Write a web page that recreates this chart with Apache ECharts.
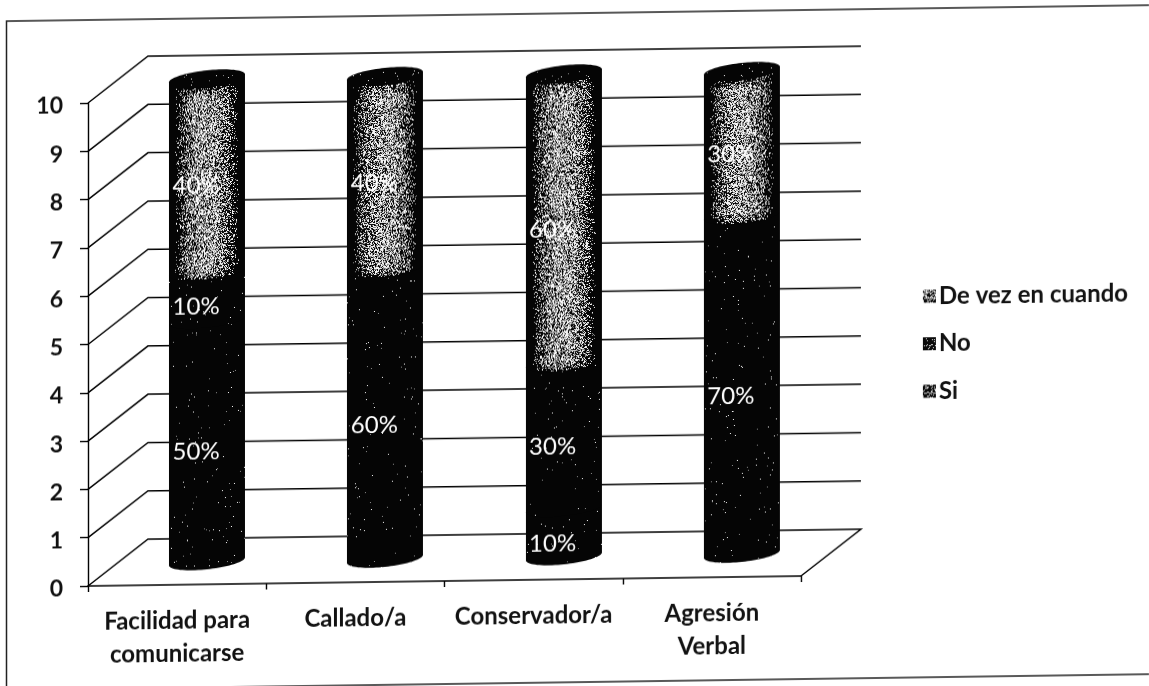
<!DOCTYPE html>
<html>
<head>
<meta charset="utf-8">
<script src="https://cdn.jsdelivr.net/npm/echarts@6/dist/echarts.min.js"></script>
<style>
html,body{margin:0;padding:0;background:#fff;width:1149px;height:686px;overflow:hidden}
#chart{width:1149px;height:720px;transform-origin:88px 586px;transform:skewY(-0.8deg)}
</style>
</head>
<body>
<div id="chart"></div>
<script>
const categories = ['Facilidad para\ncomunicarse', 'Callado/a', 'Conservador/a', 'Agresión\nVerbal'];
const si = [5, 6, 1, 7];
const no = [1, 0, 3, 0];
const deVez = [4, 4, 6, 3];
const yTicks = [0, 1, 2, 3, 4, 5, 6, 7, 8, 9, 10];

const DEPTH = [60, -46];
const FONT = 'Lato, "Open Sans", sans-serif';

function noise(x, y) {
  let n = (Math.imul(x, 374761393) + Math.imul(y, 668265263)) | 0;
  n = Math.imul(n ^ (n >>> 13), 1274126177);
  return ((n ^ (n >>> 16)) >>> 0) / 4294967296;
}
function swatch(density) {
  const c = document.createElement('canvas');
  c.width = c.height = 13;
  const g = c.getContext('2d');
  g.fillStyle = '#0a0a0a';
  g.fillRect(0, 0, 13, 13);
  for (let y = 0; y < 13; y++) for (let x = 0; x < 13; x++) {
    if (noise(x + 40, y + 17) < density) { g.fillStyle = '#e8e8e8'; g.fillRect(x, y, 1, 1); }
  }
  return { image: c, repeat: 'repeat' };
}
function speckle(x0, y0, w, h, cx, r, ry, k, topCy, botCy, kind, isTop) {
  const c = document.createElement('canvas');
  c.width = w; c.height = h;
  const g = c.getContext('2d');
  const img = g.createImageData(w, h);
  for (let j = 0; j < h; j++) for (let i = 0; i < w; i++) {
    const px = x0 + i, py = y0 + j;
    const d = (px + 0.5 - cx) / r;
    if (Math.abs(d) >= 1) continue;
    const arc = ry * Math.sqrt(1 - d * d) - k * d;
    const yt = topCy + arc, yb = botCy + arc;
    if (py > yb) continue;
    let p;
    if (py < yt) {
      if (!isTop || py < topCy - ry * Math.sqrt(1 - d * d) - k * d) continue;
      p = 0.015;
    } else if (kind === 'gray') {
      const side = Math.max(0, 1 - Math.pow(Math.abs(d) / 0.84, 2.2));
      const edge = Math.min(1, Math.min(py - yt, yb - py) / 10);
      p = 0.72 * side * (0.4 + 0.6 * edge);
      if (Math.min(py - yt, yb - py) < 1) p = 0;
    } else {
      p = 0.006;
    }
    const v = noise(px, py);
    if (v < p) {
      const o = (j * w + i) * 4;
      const shade = v < p * 0.6 ? 245 : 140;
      img.data[o] = img.data[o + 1] = img.data[o + 2] = shade;
      img.data[o + 3] = 255;
    }
  }
  g.putImageData(img, 0, 0);
  return c;
}

function cylinder(kind, isTopFn) {
  return function (params, api) {
    const idx = api.value(0), from = api.value(1), to = api.value(2), val = api.value(3);
    const a = api.coord([idx, from]);
    const b = api.coord([idx, to]);
    const band = api.size([1, 0])[0];
    const cx = Math.round(a[0] + DEPTH[0] / 2);
    const r = band * 0.2132;
    const ry = 8, k = 3.5;
    const botCy = a[1] + DEPTH[1] / 2;
    const topCy = b[1] + DEPTH[1] / 2;
    const pts = [];
    const N = 40;
    for (let n = 0; n <= N; n++) {
      const t = Math.PI * n / N;
      pts.push([cx + r * Math.cos(t), botCy + ry * Math.sin(t) - k * Math.cos(t)]);
    }
    for (let n = 0; n <= N; n++) {
      const t = Math.PI + Math.PI * n / N;
      pts.push([cx + r * Math.cos(t), topCy + ry * Math.sin(t) - k * Math.cos(t)]);
    }
    const x0 = Math.floor(cx - r), y0 = Math.floor(topCy - ry - k - 1);
    const w = Math.ceil(2 * r) + 1, h = Math.ceil(botCy - topCy + 2 * ry + 2 * k + 2);
    const isTop = isTopFn(idx, to);
    return {
      type: 'group',
      children: [
        { type: 'polygon', shape: { points: pts }, style: { fill: '#050505' } },
        { type: 'image', silent: true, style: { image: speckle(x0, y0, w, h, cx, r, ry, k, topCy, botCy, kind, isTop), x: x0, y: y0, width: w, height: h } },
        { type: 'text', silent: true, z2: 10, style: { text: Math.round(val * 10) + '%', x: a[0] + 19, y: (a[1] + b[1]) / 2 - 12, fill: '#fff', font: '24px ' + FONT, align: 'center', verticalAlign: 'middle' } }
      ]
    };
  };
}

function stackData(values, base) {
  const out = [];
  values.forEach((v, i) => { if (v > 0) out.push([i, base[i], base[i] + v, v]); });
  return out;
}
const zeros = categories.map(() => 0);
const siTop = si.map((v, i) => zeros[i] + v);
const noTop = no.map((v, i) => siTop[i] + v);
const isTopOf = (idx, to) => to >= 9.99;

const option = {
  animation: false,
  backgroundColor: '#fff',
  grid: { left: 88, top: 103, width: 713, height: 483, containLabel: false },
  xAxis: {
    type: 'category',
    data: categories,
    axisLine: { show: true, lineStyle: { color: '#000', width: 1.6 } },
    axisTick: { show: true, length: 6, alignWithLabel: false, lineStyle: { color: '#000', width: 1.4 } },
    axisLabel: { color: '#111', fontFamily: FONT, fontWeight: 'bold', fontSize: 24, margin: 20, lineHeight: 33, interval: 0 }
  },
  yAxis: {
    type: 'value',
    min: 0, max: 10, interval: 1,
    axisLine: { show: true, lineStyle: { color: '#000', width: 1.4 } },
    axisTick: { show: true, length: 8, lineStyle: { color: '#000', width: 1.4 } },
    axisLabel: { color: '#111', fontFamily: FONT, fontWeight: 'bold', fontSize: 23, margin: 25, verticalAlign: 'top', lineHeight: 6, formatter: v => String(v) },
    splitLine: { show: false }
  },
  legend: {
    orient: 'vertical',
    left: 918, top: 291,
    itemWidth: 13, itemHeight: 13, itemGap: 23.5,
    icon: 'rect',
    data: ['De vez en cuando', 'No', 'Si'],
    textStyle: { color: '#111', fontFamily: FONT, fontWeight: 'bold', fontSize: 24, padding: [0, 0, 0, -2] }
  },
  graphic: [
    { type: 'polyline', silent: true, shape: { points: [[1180, 20], [6.5, 20], [6.5, 720]] }, style: { fill: 'none', stroke: '#222', lineWidth: 1.5 } },
    { type: 'polyline', silent: true, shape: { points: [[6.5, 689], [1180, 689]] }, style: { fill: 'none', stroke: '#222', lineWidth: 1.5 } }
  ],
  series: [
    {
      type: 'custom', name: 'walls', silent: true, z: 1,
      coordinateSystem: 'cartesian2d',
      data: yTicks.map(v => [v]),
      renderItem: (params, api) => {
        const v = api.value(0);
        const L = api.coord([0, v]);
        const band = api.size([1, 0])[0];
        const x0 = L[0] - band / 2;
        const x1 = x0 + band * categories.length;
        const pts = [[x0, L[1]], [x0 + DEPTH[0], L[1] + DEPTH[1]], [x1 + DEPTH[0], L[1] + DEPTH[1]]];
        if (v === 0) pts.push([x1, L[1]]);
        return { type: 'polyline', shape: { points: pts }, style: { fill: 'none', stroke: '#000', lineWidth: 1.5 } };
      },
      encode: { y: 0 }
    },
    {
      type: 'custom', name: 'Si', z: 2, coordinateSystem: 'cartesian2d',
      itemStyle: { color: swatch(0.28) },
      data: stackData(si, zeros), renderItem: cylinder('dark', isTopOf), encode: { x: 0, y: [1, 2] }
    },
    {
      type: 'custom', name: 'No', z: 3, coordinateSystem: 'cartesian2d',
      itemStyle: { color: swatch(0.1) },
      data: stackData(no, siTop), renderItem: cylinder('dark', isTopOf), encode: { x: 0, y: [1, 2] }
    },
    {
      type: 'custom', name: 'De vez en cuando', z: 4, coordinateSystem: 'cartesian2d',
      itemStyle: { color: swatch(0.5) },
      data: stackData(deVez, noTop), renderItem: cylinder('gray', isTopOf), encode: { x: 0, y: [1, 2] }
    }
  ]
};
const chart = echarts.init(document.getElementById('chart'));
chart.setOption(option);
</script>
</body>
</html>
